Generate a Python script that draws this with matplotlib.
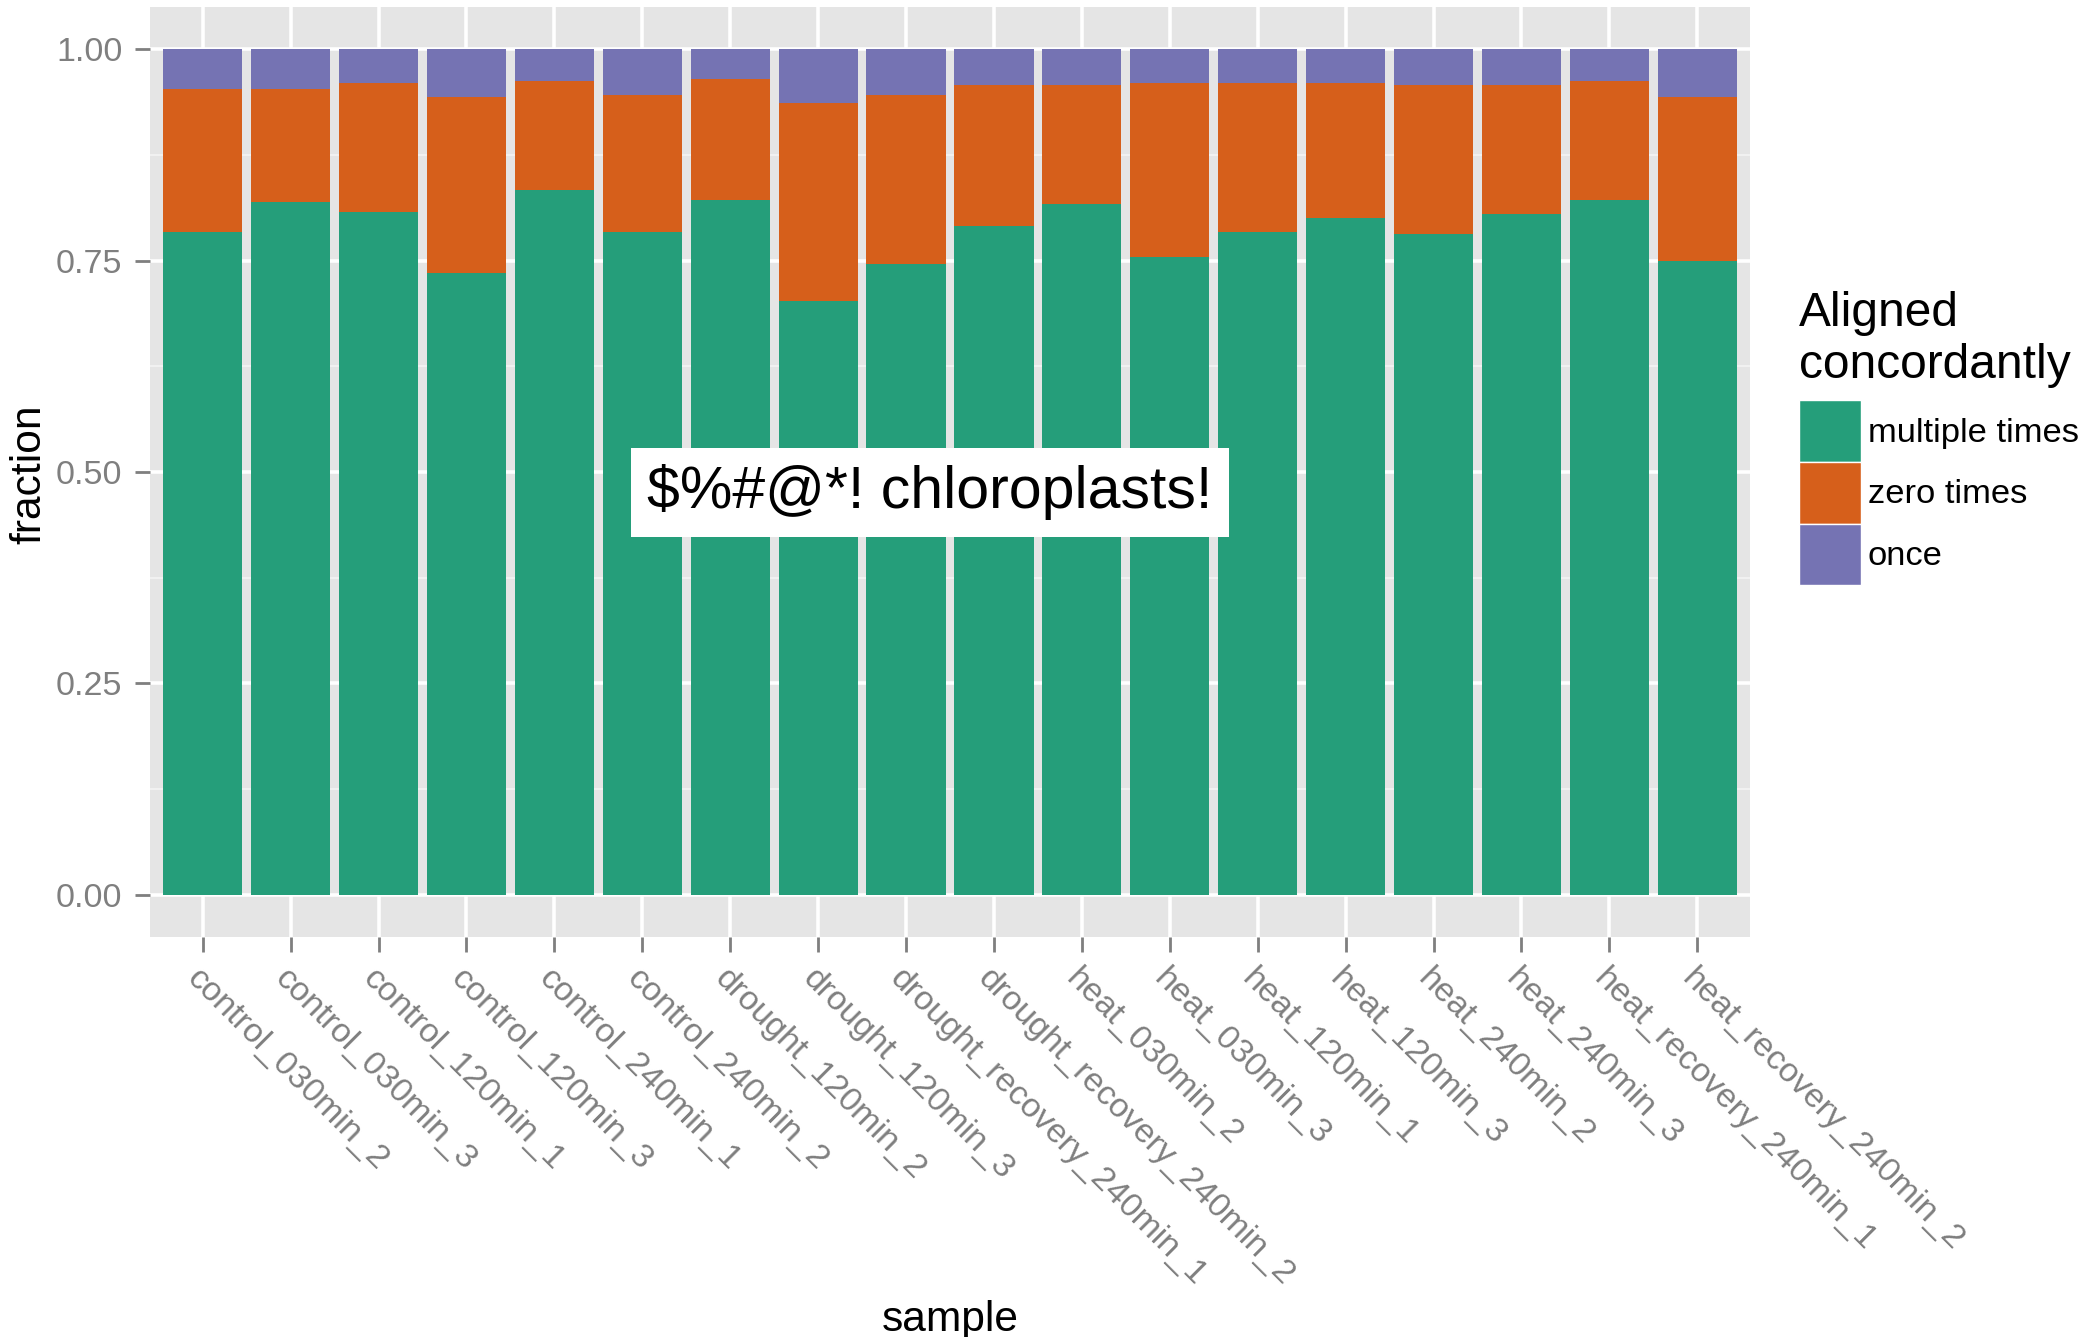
import matplotlib
matplotlib.use("Agg")
import matplotlib.pyplot as plt
from matplotlib.patches import Patch
import numpy as np

plt.rcParams['font.family'] = ['Liberation Sans', 'DejaVu Sans']

samples = [
    "control_030min_2", "control_030min_3", "control_120min_1", "control_120min_3",
    "control_240min_1", "control_240min_2", "drought_120min_2", "drought_120min_3",
    "drought_recovery_240min_1", "drought_recovery_240min_2", "heat_030min_2",
    "heat_030min_3", "heat_120min_1", "heat_120min_3", "heat_240min_2",
    "heat_240min_3", "heat_recovery_240min_1", "heat_recovery_240min_2",
]

multiple_times = [0.784, 0.819, 0.808, 0.735, 0.834, 0.784, 0.822, 0.702, 0.746,
                  0.791, 0.817, 0.754, 0.784, 0.801, 0.782, 0.805, 0.822, 0.749]
zero_times = [0.169, 0.134, 0.152, 0.209, 0.129, 0.162, 0.143, 0.235, 0.200,
              0.167, 0.141, 0.206, 0.176, 0.159, 0.176, 0.153, 0.141, 0.195]
once = [0.047, 0.047, 0.040, 0.056, 0.037, 0.054, 0.035, 0.063, 0.054,
        0.042, 0.042, 0.040, 0.040, 0.040, 0.042, 0.042, 0.037, 0.056]

series_labels = ["multiple times", "zero times", "once"]
colors = ["#259E7A", "#D65F1B", "#7573B3"]
yticks = [0.0, 0.25, 0.50, 0.75, 1.0]
ytick_labels = ["0.00", "0.25", "0.50", "0.75", "1.00"]

note = "$%#@*! chloroplasts!"
note_x, note_y = 8.27, 0.476

W, H = 2084, 1337
fig = plt.figure(figsize=(W / 100, H / 100), dpi=100)
ax = fig.add_axes([150 / W, 1 - 937 / H, 1600 / W, 930 / H])
ax.set_facecolor("#E5E5E5")

x = np.arange(len(samples))
m = np.array(multiple_times)
z = np.array(zero_times)
o = np.array(once)
ax.bar(x, m, width=0.9, color=colors[0], zorder=3, linewidth=0)
ax.bar(x, z, width=0.9, bottom=m, color=colors[1], zorder=3, linewidth=0)
ax.bar(x, o, width=0.9, bottom=m + z, color=colors[2], zorder=3, linewidth=0)

ax.set_xlim(-0.6, len(samples) - 0.4)
ax.set_ylim(-0.05, 1.05)

# grid: major white, minor light
ax.set_yticks(yticks)
ax.set_yticks([0.125, 0.375, 0.625, 0.875], minor=True)
ax.set_xticks(x)
ax.grid(which="major", color="white", linewidth=2.6, zorder=1)
ax.grid(which="minor", axis="y", color="#F2F2F2", linewidth=1.4, zorder=0.5)
ax.set_axisbelow(True)
for s in ax.spines.values():
    s.set_visible(False)

ax.set_yticklabels(ytick_labels)
ax.set_xticklabels(samples, rotation=-45, ha="left", va="top", rotation_mode="anchor")
ax.tick_params(axis="both", which="major", colors="#7F7F7F", length=10.8, width=2,
               labelsize=24.5, labelcolor="#7F7F7F")
ax.tick_params(axis="y", pad=9)
ax.tick_params(axis="x", pad=8)
ax.tick_params(which="minor", length=0)

fig.text(29 / W, 1 - 474 / H, "fraction", rotation=90, ha="center", va="center",
         fontsize=30.6, color="black")
fig.text(950 / W, 1 - 1331 / H, "sample", ha="center", va="baseline",
         fontsize=30.6, color="black")

ax.text(note_x, note_y, note, ha="center", va="center", fontsize=42.5, color="black",
        zorder=5, bbox=dict(boxstyle="square,pad=0.28", fc="white", ec="none"))

handles = [Patch(facecolor=c, edgecolor="white", linewidth=1) for c in colors]
leg = ax.legend(handles, series_labels, title="Aligned\nconcordantly",
                loc="upper left", bbox_to_anchor=(1799 / W, 1 - 291 / H),
                bbox_transform=fig.transFigure, frameon=False, fontsize=24.8,
                title_fontsize=34.5, handlelength=1.79, handleheight=2.37,
                handletextpad=0.2, labelspacing=0, borderpad=0, borderaxespad=0,
                alignment="left")
# space between the legend title and its keys
leg._legend_box.sep = 9

fig.savefig("out.png", dpi=100)
